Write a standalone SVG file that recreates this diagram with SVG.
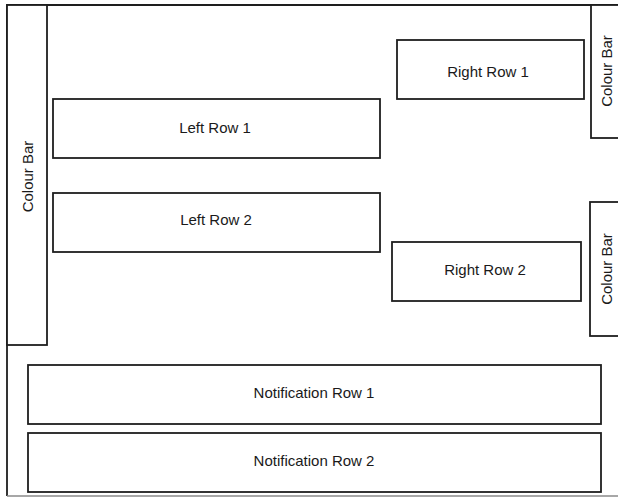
<svg xmlns="http://www.w3.org/2000/svg" width="618" height="498" viewBox="0 0 618 498">
  <style>
    .box { fill: #ffffff; stroke: #1e1e1e; stroke-width: 1.8; }
    .frame { fill: none; stroke: #1e1e1e; stroke-width: 1.8; }
    .edge { fill: none; stroke: #8a8a8a; stroke-width: 1.4; }
    .lbl { font-family: "Liberation Sans", Arial, Helvetica, sans-serif; font-size: 15px; fill: #1a1a1a; text-anchor: middle; }
  </style>
  <rect width="618" height="498" fill="#ffffff"/>

  <!-- outer frame -->
  <g id="frame">
    <path class="frame" d="M619 5 H7 V496"/>
    <path class="edge" d="M7 496 H619"/>
  </g>

  <g id="colour-bar-left">
    <rect class="box" x="7" y="5" width="40" height="340"/>
    <text class="lbl" transform="translate(33 176.5) rotate(-90)">Colour Bar</text>
  </g>

  <g id="colour-bar-right-1">
    <rect class="box" x="591" y="5" width="40" height="133"/>
    <text class="lbl" transform="translate(612 71) rotate(-90)">Colour Bar</text>
  </g>

  <g id="colour-bar-right-2">
    <rect class="box" x="590" y="202" width="40" height="134"/>
    <text class="lbl" transform="translate(612 269) rotate(-90)">Colour Bar</text>
  </g>

  <g id="left-row-1">
    <rect class="box" x="53" y="99" width="327" height="59"/>
    <text class="lbl" x="215" y="133">Left Row 1</text>
  </g>

  <g id="left-row-2">
    <rect class="box" x="53" y="193" width="327" height="59"/>
    <text class="lbl" x="216" y="225">Left Row 2</text>
  </g>

  <g id="right-row-1">
    <rect class="box" x="397" y="40" width="187" height="59"/>
    <text class="lbl" x="488" y="77">Right Row 1</text>
  </g>

  <g id="right-row-2">
    <rect class="box" x="392" y="242" width="189" height="59"/>
    <text class="lbl" x="485" y="275">Right Row 2</text>
  </g>

  <g id="notification-row-1">
    <rect class="box" x="28" y="365" width="573" height="59"/>
    <text class="lbl" x="314" y="397.5">Notification Row 1</text>
  </g>

  <g id="notification-row-2">
    <rect class="box" x="28" y="433" width="573" height="59"/>
    <text class="lbl" x="314" y="466">Notification Row 2</text>
  </g>

  <g id="connectors"></g>
</svg>
